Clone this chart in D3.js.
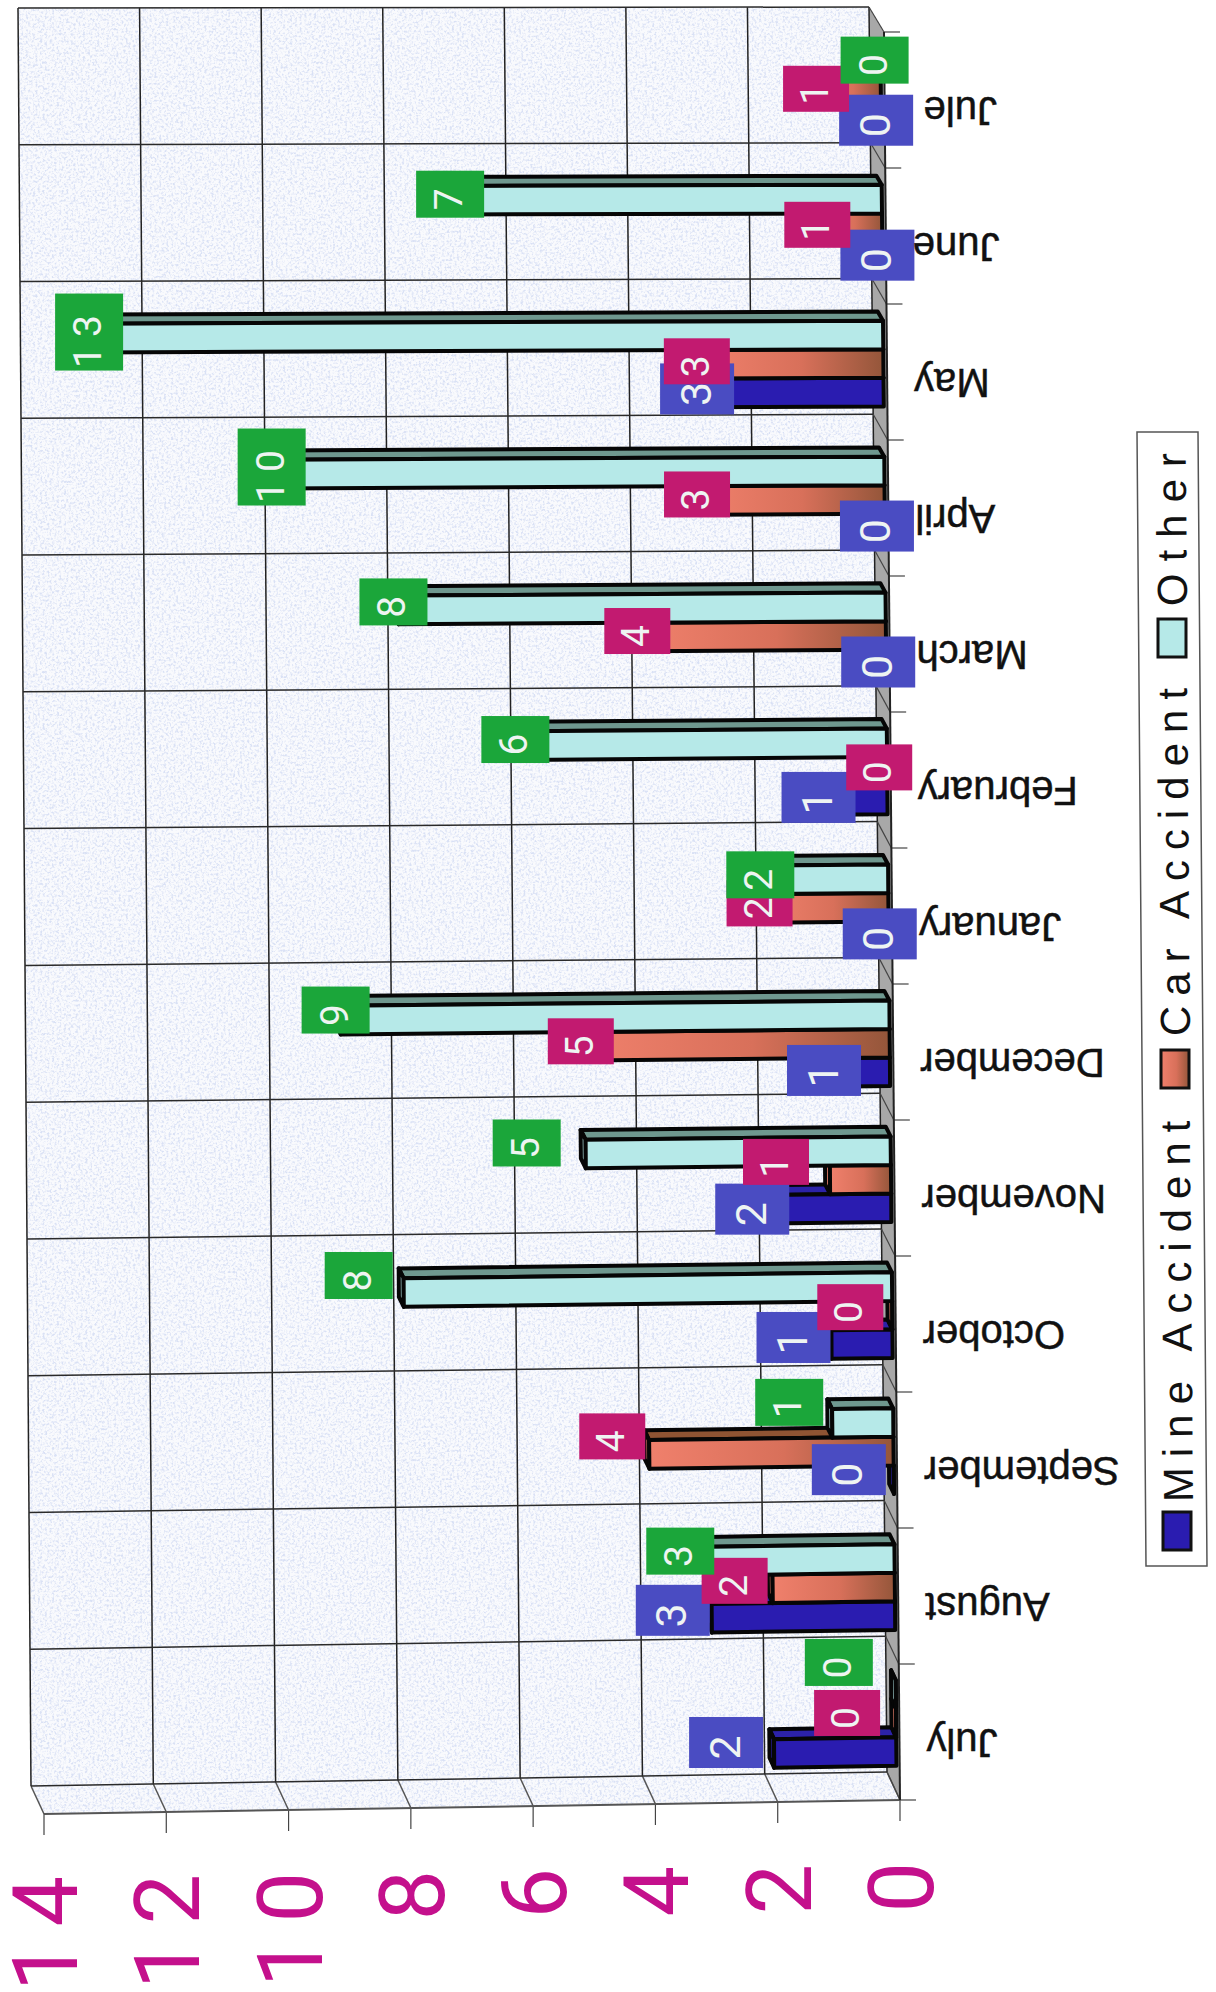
<!DOCTYPE html>
<html>
<head>
<meta charset="utf-8">
<script src="https://cdn.jsdelivr.net/npm/d3@7"></script>
<style>
  html, body { margin: 0; background: #fff; }
  text { font-family: "Liberation Sans", Arial, sans-serif; }
  text.digits { font-family: Roboto, "Liberation Sans", sans-serif; }
</style>
</head>
<body>
<div id="chart"></div>
<script>
const months = ['July', 'August', 'September', 'October', 'November', 'December',
  'January', 'February', 'March', 'April', 'May', 'June', 'Jule']
const seriesNames = ['Mine Accident', 'Car Accident', 'Other']
const mineAccident = [2, 3, 0, 1, 2, 1, 0, 1, 0, 0, 3, 0, 0]
const carAccident = [0, 2, 4, 0, 1, 5, 2, 0, 4, 3, 3, 1, 1]
const other = [0, 3, 1, 8, 5, 9, 2, 6, 8, 10, 13, 7, 0]
const valueTicks = [0, 2, 4, 6, 8, 10, 12, 14]

// hand moved labels in the original, px away from the bar tip
const mineNudge = [[-48, -11], [-39, -8], [-45, -10], [-38, -7], [-17, 0], [-5, -2], [-9, -2],
  [-8, -3], [-8, -2], [-8, -2], [-4, -4], [-5, -1], [-5, 0]]
const carNudge = [[-49, -10], [-38, -8], [-37, -18], [-42, -8], [-54, -18], [-4, -5], [-7, -5],
  [-8, -4], [-5, -6], [-5, -6], [-4, -3], [-4, -3], [-4, -3]]
const otherNudge = [[-57, -32], [-31, -10], [-43, -21], [-45, -17], [-59, -11], [-5, -10], [-6, -5],
  [-6, -6], [-5, -8], [-4, -7], [-3, -6], [-6, -6], [-6, -3]]
const monthNudge = {Jule: 12}

const series = [
  {name: seriesNames[0], values: mineAccident, nudge: mineNudge, label: '#4a4cc2', box: [74, 51], font: 43,
    front: '#2a1cb0', side: '#2c22a8', tip: '#2c22a8'},
  {name: seriesNames[1], values: carAccident, nudge: carNudge, label: '#c21a70', box: [66, 46], font: 39,
    front: 'url(#carFill)', side: '#8f5433', tip: '#e9806c'},
  {name: seriesNames[2], values: other, nudge: otherNudge, label: '#1ba63a', box: [68, 47], font: 39,
    front: '#b6e9e8', side: '#6f988f', tip: '#b6e9e8'},
]

const svg = d3.select('#chart').append('svg')
  .attr('width', 1216)
  .attr('height', 1992)
  .style('display', 'block')

const defs = svg.append('defs')
const carFill = defs.append('linearGradient').attr('id', 'carFill')
carFill.append('stop').attr('offset', 0).attr('stop-color', '#f0806c')
carFill.append('stop').attr('offset', 0.55).attr('stop-color', '#d8705a')
carFill.append('stop').attr('offset', 1).attr('stop-color', '#94563a')

const speckle = defs.append('filter').attr('id', 'speckle')
  .attr('x', 0).attr('y', 0).attr('width', 1).attr('height', 1)
speckle.append('feTurbulence')
  .attr('type', 'fractalNoise').attr('baseFrequency', 0.42).attr('numOctaves', 3).attr('seed', 4)
speckle.append('feColorMatrix')
  .attr('type', 'matrix')
  .attr('values', '0 0 0 0 0.66  0 0 0 0 0.72  0 0 0 0 0.9  3.4 0 0 0 -1.55')
speckle.append('feComposite').attr('in2', 'SourceGraphic').attr('operator', 'in')

// the chart is a rotated and skewed scan: corners of the back wall, then the depth of the floor
const wallCorners = {br: [887, 1772], bl: [31, 1786], tr: [869, 7], tl: [18, 8]}
const valueScale = d3.scaleLinear().domain([0, 14]).range([0, 1])
const monthBand = d3.scaleBand().domain(months).range([0, 13])
const slotScale = d3.scaleLinear().domain([0, 13]).range([0, 1])
const depthX = d3.scaleLinear().domain([0, 13]).range([13, 15])
const depthY = d3.scaleLinear().domain([0, 13]).range([28, 25])

// v: value, m: position along the months, d: 0 at the front edge, 1 at the wall
const project = (v, m, d) => {
  const u = valueScale(v)
  const t = slotScale(m)
  const lerp = (a, b, k) => a + (b - a) * k
  const low = [0, 1].map(i => lerp(wallCorners.br[i], wallCorners.bl[i], u))
  const high = [0, 1].map(i => lerp(wallCorners.tr[i], wallCorners.tl[i], u))
  return [
    lerp(low[0], high[0], t) + (1 - d) * depthX(m),
    lerp(low[1], high[1], t) + (1 - d) * depthY(m),
  ]
}

const pathOf = pts => 'M' + pts.map(p => p[0].toFixed(1) + ',' + p[1].toFixed(1)).join('L') + 'Z'
const lineOf = (a, b) => ({x1: a[0], y1: a[1], x2: b[0], y2: b[1]})

const drawLine = (g, l, color, width) => g.append('line')
  .attr('x1', l.x1).attr('y1', l.y1).attr('x2', l.x2).attr('y2', l.y2)
  .attr('stroke', color).attr('stroke-width', width)

// Walls and floor
const walls = svg.append('g')
const wallPath = pathOf([project(0, 0, 1), project(14, 0, 1), project(14, 13, 1), project(0, 13, 1)])
const sidePath = pathOf([project(0, 0, 0), project(14, 0, 0), project(14, 0, 1), project(0, 0, 1)])
walls.append('path').attr('d', wallPath).attr('fill', '#f9fafd')
walls.append('path').attr('d', sidePath).attr('fill', '#f9fafd')
walls.append('path').attr('d', wallPath).attr('fill', '#fff').attr('filter', 'url(#speckle)').attr('opacity', 0.85)
walls.append('path').attr('d', sidePath).attr('fill', '#fff').attr('filter', 'url(#speckle)').attr('opacity', 0.85)
walls.append('path')
  .attr('d', pathOf([project(0, 0, 0), project(0, 0, 1), project(0, 13, 1), project(0, 13, 0)]))
  .attr('fill', '#a8a8a8')

const grid = svg.append('g')
valueTicks.forEach(v => {
  drawLine(grid, lineOf(project(v, 0, 1), project(v, 13, 1)), '#222', 1.5)
  drawLine(grid, lineOf(project(v, 0, 1), project(v, 0, 0)), '#555', 1.5)
  const f = project(v, 0, 0)
  drawLine(grid, lineOf(f, [f[0], f[1] + 21]), '#444', 1.2)
})
d3.range(14).forEach(m => {
  drawLine(grid, lineOf(project(0, m, 1), project(14, m, 1)), '#2a2a2a', 1.5)
  drawLine(grid, lineOf(project(0, m, 1), project(0, m, 0)), '#444', 1.2)
  const f = project(0, m, 0)
  drawLine(grid, lineOf(f, [f[0] + 16, f[1]]), '#444', 1.2)
})
drawLine(grid, lineOf(project(14, 0, 0), project(0, 0, 0)), '#555', 2)
drawLine(grid, lineOf(project(0, 0, 0), project(0, 13, 0)), '#222', 2)

// Bars
const barStart = 0.2
const barWidth = 0.21
const frontDepth = 0.25
const backDepth = 0.61

const bars = svg.append('g').attr('stroke', '#060606').attr('stroke-width', 4).attr('stroke-linejoin', 'round')
months.forEach((month, mi) => {
  const m = monthBand(month)
  series.forEach((s, si) => {
    const v = s.values[mi]
    const m0 = m + barStart + si * barWidth
    const m1 = m0 + barWidth
    const g = bars.append('g')
    g.append('path').attr('fill', s.side)
      .attr('d', pathOf([project(0, m1, frontDepth), project(v, m1, frontDepth), project(v, m1, backDepth), project(0, m1, backDepth)]))
    g.append('path').attr('fill', s.tip)
      .attr('d', pathOf([project(v, m0, frontDepth), project(v, m1, frontDepth), project(v, m1, backDepth), project(v, m0, backDepth)]))
    g.append('path').attr('fill', s.front)
      .attr('d', pathOf([project(0, m0, frontDepth), project(v, m0, frontDepth), project(v, m1, frontDepth), project(0, m1, frontDepth)]))
  })
})

// Data labels, in series order so green lies on top
const labels = svg.append('g')
series.forEach((s, si) => {
  months.forEach((month, mi) => {
    const v = s.values[mi]
    const mc = monthBand(month) + barStart + (si + 0.5) * barWidth
    const p = project(v, mc, frontDepth)
    const cx = p[0] + s.nudge[mi][0]
    const cy = p[1] + s.nudge[mi][1]
    const w = s.box[0]
    const h = v >= 10 ? 77 : s.box[1]
    labels.append('rect')
      .attr('x', cx - w / 2).attr('y', cy - h / 2)
      .attr('width', w).attr('height', h)
      .attr('fill', s.label)
    // the digits sit a little low and left in their boxes
    labels.append('text')
      .attr('class', 'digits')
      .attr('transform', `translate(${cx - 2},${cy + 5}) rotate(-90)`)
      .attr('text-anchor', 'middle')
      .attr('dy', '0.36em')
      .attr('letter-spacing', v >= 10 ? 9 : 0)
      .attr('font-size', s.font)
      .attr('fill', '#eef4f2')
      .text(v)
  })
})

// Month labels, turned upside down
const monthLabels = svg.append('g')
months.forEach(month => {
  const p = project(0, monthBand(month) + monthBand.bandwidth() / 2, 0)
  monthLabels.append('text')
    .attr('transform', `translate(${p[0] + 27 + (monthNudge[month] || 0)},${p[1] - 3}) rotate(180)`)
    .attr('text-anchor', 'end')
    .attr('font-size', 40)
    .attr('fill', '#111')
    .attr('stroke', '#111')
    .attr('stroke-width', 0.5)
    .text(month)
})

// Value axis labels
const valueLabels = svg.append('g')
valueTicks.forEach(v => {
  const p = project(v, 0, 0)
  valueLabels.append('text')
    .attr('class', 'digits')
    .attr('transform', `translate(${p[0] + 33},${p[1] + 48}) rotate(-90)`)
    .attr('text-anchor', 'end')
    .attr('font-size', 90)
    .attr('letter-spacing', 14)
    .attr('fill', '#c4108c')
    .text(v)
})

// Legend
const legendBox = [[1137, 432], [1198, 432], [1207, 1566], [1146, 1566]]
const legendStarts = [[1193, 1502], [1190, 1036], [1187, 606]]
const legendSwatches = [[1163, 1512, '#2a1cb0'], [1161, 1050, 'url(#carFill)'], [1158, 619, '#b6e9e8']]
const legend = svg.append('g')
legend.append('path').attr('d', pathOf(legendBox)).attr('fill', '#fff').attr('stroke', '#555').attr('stroke-width', 1.5)
seriesNames.forEach((name, i) => {
  const sw = legendSwatches[i]
  legend.append('rect')
    .attr('x', sw[0]).attr('y', sw[1]).attr('width', 28).attr('height', 38)
    .attr('fill', sw[2]).attr('stroke', '#111').attr('stroke-width', 3)
  const st = legendStarts[i]
  legend.append('text')
    .attr('transform', `translate(${st[0]},${st[1]}) rotate(-90.5)`)
    .attr('font-size', 42)
    .attr('letter-spacing', i === 2 ? 12 : 10)
    .attr('fill', '#111')
    .text(name)
})
</script>
</body>
</html>
